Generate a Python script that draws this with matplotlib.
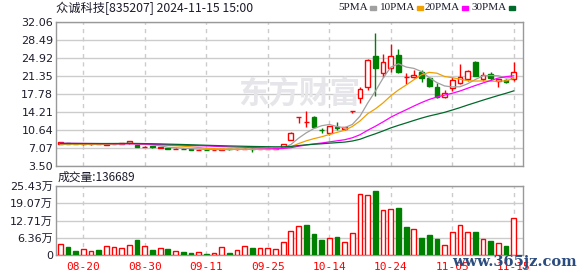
import numpy as np
import pandas as pd
import matplotlib
matplotlib.use('Agg')
import matplotlib.pyplot as plt

# 交易日 (2024-08-15 .. 2024-11-15)
dates = ['08-15', '08-16', '08-19', '08-20', '08-21', '08-22', '08-23', '08-26', '08-27', '08-28',
         '08-29', '08-30', '09-02', '09-03', '09-04', '09-05', '09-06', '09-09', '09-10', '09-11',
         '09-12', '09-13', '09-18', '09-19', '09-20', '09-23', '09-24', '09-25', '09-26', '09-27',
         '09-30', '10-08', '10-09', '10-10', '10-11', '10-14', '10-15', '10-16', '10-17', '10-18',
         '10-21', '10-22', '10-23', '10-24', '10-25', '10-28', '10-29', '10-30', '10-31', '11-01',
         '11-04', '11-05', '11-06', '11-07', '11-08', '11-11', '11-12', '11-13', '11-14', '11-15']
shown_dates = ['08-20', '08-30', '09-11', '09-25', '10-14', '10-24', '11-05', '11-15']

open_ = [7.85, 8.05, 7.95, 7.78, 7.80, 7.90, 7.75, 7.85, 7.90, 8.00,
         7.65, 7.30, 7.50, 7.15, 7.00, 6.90, 6.95, 6.80, 6.70, 6.75,
         6.70, 6.75, 6.85, 6.80, 6.85, 6.95, 6.85, 6.90, 6.90, 7.27,
         8.75, 13.18, 12.25, 13.13, 10.65, 9.95, 11.15, 10.74, 14.48, 17.03,
         19.20, 25.38, 22.00, 22.87, 25.50, 21.20, 21.08, 22.20, 20.90, 19.10,
         17.10, 18.90, 19.90, 20.69, 24.10, 20.70, 21.74, 20.40, 20.55, 20.75]
high = [8.30, 8.10, 8.00, 7.85, 7.90, 7.95, 7.85, 8.10, 8.10, 8.45,
        7.70, 7.45, 7.55, 7.25, 7.05, 7.00, 7.00, 6.85, 6.80, 6.80,
        6.80, 6.90, 6.90, 6.90, 7.00, 7.00, 6.95, 7.00, 7.05, 7.95,
        10.20, 13.18, 14.44, 13.50, 10.94, 11.45, 12.25, 11.20, 14.48, 19.20,
        24.66, 29.95, 25.66, 27.70, 26.70, 21.90, 22.50, 22.50, 21.10, 19.90,
        18.56, 21.08, 23.67, 22.50, 24.30, 22.20, 22.20, 20.80, 20.80, 24.10]
low = [7.80, 7.90, 7.80, 7.70, 7.75, 7.80, 7.70, 7.80, 7.85, 7.95,
       7.30, 7.20, 7.10, 7.05, 6.90, 6.85, 6.85, 6.65, 6.65, 6.65,
       6.65, 6.70, 6.75, 6.75, 6.80, 6.20, 6.80, 6.85, 6.85, 7.20,
       8.70, 12.05, 11.14, 11.20, 9.95, 9.67, 10.60, 10.70, 13.95, 16.00,
       18.56, 17.36, 21.08, 22.20, 21.90, 19.75, 21.00, 20.20, 19.20, 17.00,
       17.00, 18.42, 19.75, 20.40, 21.30, 20.40, 20.50, 19.10, 20.00, 20.35]
close = [8.20, 7.95, 7.85, 7.80, 7.85, 7.85, 7.80, 7.95, 8.00, 8.40,
         7.35, 7.35, 7.20, 7.20, 6.95, 6.95, 6.90, 6.70, 6.75, 6.70,
         6.75, 6.85, 6.80, 6.85, 6.95, 6.85, 6.90, 6.95, 7.00, 7.80,
         10.14, 13.18, 12.25, 11.26, 10.60, 11.40, 11.10, 11.14, 14.48, 18.80,
         24.45, 22.87, 24.07, 25.30, 22.20, 21.20, 21.54, 20.90, 19.35, 17.20,
         17.90, 20.55, 21.08, 22.34, 21.40, 21.54, 20.90, 20.80, 20.10, 22.08]
# 成交量 (万股)
volume = [4.1, 3.0, 1.6, 2.2, 1.5, 1.9, 3.4, 3.0, 2.6, 3.7,
          5.6, 3.4, 1.9, 2.6, 2.2, 1.5, 1.1, 0.8, 1.0, 0.4,
          0.75, 2.9, 0.75, 1.75, 3.25, 2.6, 2.5, 2.5, 2.1, 4.9,
          8.9, 10.7, 11.2, 7.9, 5.6, 6.2, 6.7, 4.9, 8.1, 22.4,
          22.1, 23.6, 16.7, 17.1, 17.2, 10.5, 9.6, 6.4, 7.5, 6.0,
          3.6, 8.5, 11.1, 8.5, 8.6, 5.9, 5.2, 4.5, 3.4, 13.6689]
# 窗口之前的收盘价, 只用于计算均线
pre_close = [7.85, 7.90, 7.95, 7.88, 7.92, 7.80, 7.75, 7.82, 7.90, 7.98,
             8.05, 8.10, 8.15, 8.20, 8.12, 8.08, 8.15, 8.20, 8.25, 8.18,
             8.10, 8.05, 8.00, 7.95, 7.85, 7.70, 7.65, 7.60, 7.62]

price_ticks = [3.50, 7.07, 10.64, 14.21, 17.78, 21.35, 24.92, 28.49, 32.06]
vol_ticks = [0, 6.36, 12.71, 19.07, 25.43]
ma_periods = [5, 10, 20, 30]
ma_colors = ['#a0a0a0', '#f0a000', '#ff00ff', '#006a2a']

RED = '#ff0000'
GREEN = '#008000'
GRID = '#cccccc'
SPINE = '#999999'
TXT = '#1c1c2c'
W, H = 578, 276


def setup_axes(ax, xs):
    for s in ax.spines.values():
        s.set_color(SPINE)
        s.set_linewidth(1)
    ax.grid(axis='y', color=GRID, linewidth=1)
    for xv in xs:
        ax.axvline(xv, color=GRID, linewidth=1, linestyle=(0, (3, 3)), zorder=0)
    ax.set_axisbelow(True)
    ax.tick_params(length=0, pad=2, labelsize=8, colors=TXT)


def main():
    n = len(close)
    x = np.arange(n)
    o = np.array(open_)
    h = np.array(high)
    l = np.array(low)
    c = np.array(close)
    xs = [dates.index(d) for d in shown_dates]

    fig = plt.figure(figsize=(W / 100, H / 100), dpi=100)
    ax = fig.add_axes([56 / W, 1 - 166 / H, 467 / W, 144 / H])
    axv = fig.add_axes([56 / W, 1 - 255 / H, 467 / W, 69 / H])
    xlim = (-0.55, n + 0.2)

    # K线
    setup_axes(ax, xs)
    up = c >= o
    col = np.where(up, RED, GREEN)
    ax.vlines(x, l, h, colors=col, linewidth=1, zorder=3)
    body = np.maximum(np.abs(c - o), 0.001)
    ax.bar(x, body, bottom=np.minimum(o, c), width=0.62,
           color=np.where(up, 'white', GREEN), edgecolor=col, linewidth=1, zorder=4)

    # 均线
    full = pd.Series(pre_close + close)
    for p, mc in zip(ma_periods, ma_colors):
        ma = full.rolling(p).mean().values[len(pre_close):]
        ax.plot(x, ma, color=mc, linewidth=0.9, zorder=5)

    ax.set_xlim(*xlim)
    ax.set_ylim(price_ticks[0], price_ticks[-1])
    ax.set_yticks(price_ticks)
    ax.set_yticklabels(['%.2f' % v for v in price_ticks])
    ax.set_xticks([])

    # 水印
    ax.text(0.52, 0.5, '东方财富', transform=ax.transAxes, ha='center', va='center',
            fontsize=22, fontweight='bold', color='#e6e6ea', zorder=1,
            family=['Noto Sans CJK SC', 'DejaVu Sans'])

    # 成交量
    setup_axes(axv, xs)
    prev = np.r_[c[0], c[:-1]]
    vol_up = (c > o) | ((c == o) & (c >= prev))
    vcol = np.where(vol_up, RED, GREEN)
    axv.bar(x, volume, width=0.62, color=np.where(vol_up, 'white', GREEN),
            edgecolor=vcol, linewidth=1, zorder=3)
    axv.set_xlim(*xlim)
    axv.set_ylim(0, vol_ticks[-1])
    axv.set_yticks(vol_ticks)
    axv.set_yticklabels(['0'] + ['%.2f万' % v for v in vol_ticks[1:]],
                        family=['DejaVu Sans', 'Noto Sans CJK SC'])
    axv.set_xticks(xs)
    axv.set_xticklabels(shown_dates, family='DejaVu Sans Mono', fontsize=8, color=RED)
    axv.tick_params(axis='x', pad=5)

    cjk = ['Noto Sans CJK SC', 'DejaVu Sans']
    fig.text(56 / W, 1 - 8 / H, '众诚科技[835207] 2024-11-15 15:00', ha='left', va='center',
             fontsize=8.8, color=TXT, family=cjk)
    fig.text(58 / W, 1 - 177 / H, '成交量:%d' % round(volume[-1] * 10000), ha='left', va='center',
             fontsize=8.5, color=TXT, family=cjk)

    # 图例: 文字后接色块
    renderer = fig.canvas.get_renderer()
    text_x = [338, 380, 425, 472]
    for p, mc, tx in zip(ma_periods, ma_colors, text_x):
        t = fig.text(tx / W, 1 - 8 / H, '%dPMA' % p, ha='left', va='center',
                     fontsize=8, color=TXT, family='Liberation Serif')
        tw = t.get_window_extent(renderer=renderer).width
        fig.patches.append(plt.Rectangle(((tx + tw + 2) / W, 1 - 10 / H), 6 / W, 4 / H,
                                         transform=fig.transFigure, color=mc, figure=fig))

    fig.text(1 - 1 / W, 1 - 262 / H, 'www.365jz.com', ha='right', va='center',
             fontsize=10.5, fontweight='bold', color='#2b4c7e', family='DejaVu Serif')

    fig.savefig('out.png', dpi=100)
    plt.close(fig)


if __name__ == '__main__':
    main()
